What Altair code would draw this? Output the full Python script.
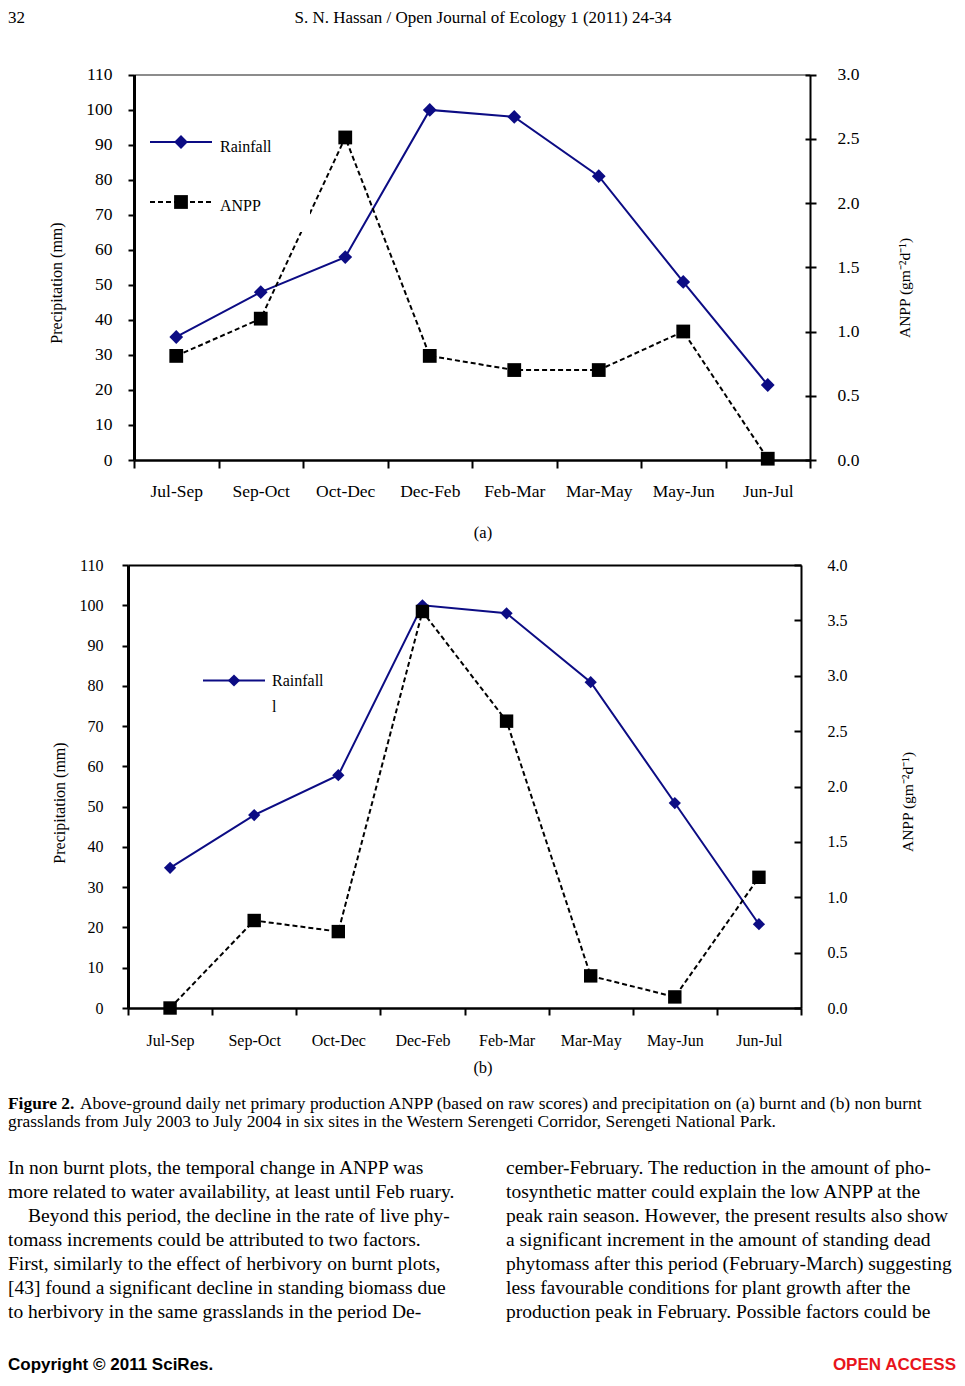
import altair as alt
import pandas as pd

# ---------------- data ----------------
periods = ["Jul-Sep", "Sep-Oct", "Oct-Dec", "Dec-Feb", "Feb-Mar", "Mar-May", "May-Jun", "Jun-Jul"]
rain_a = [35.1, 47.9, 57.9, 99.9, 97.9, 81.0, 50.8, 21.4]
anpp_a = [0.81, 1.10, 2.51, 0.81, 0.70, 0.70, 1.00, 0.01]
rain_b = [34.8, 47.9, 57.8, 100.0, 98.0, 80.9, 50.9, 20.8]
anpp_b = [0.00, 0.79, 0.69, 3.58, 2.59, 0.29, 0.10, 1.18]
precip_ticks = [0, 10, 20, 30, 40, 50, 60, 70, 80, 90, 100, 110]
anpp_ticks_a = [0.0, 0.5, 1.0, 1.5, 2.0, 2.5, 3.0]
anpp_ticks_b = [0.0, 0.5, 1.0, 1.5, 2.0, 2.5, 3.0, 3.5, 4.0]

header_num = "32"
header_title = "S. N. Hassan / Open Journal of Ecology 1 (2011) 24-34"
y_title_left = "Precipitation (mm)"
y_title_right = "ANPP (gm\u207b\u00b2d\u207b\u00b9)"
legend_rain = "Rainfall"
legend_anpp = "ANPP"
legend_stray = "l"
caption_bold = "Figure 2."
caption_1 = ("Above-ground daily net primary production ANPP (based on raw scores) "
             "and precipitation on (a) burnt and (b) non burnt")
caption_2 = ("grasslands from July 2003 to July 2004 in six sites in the Western "
             "Serengeti Corridor, Serengeti National Park.")
body_left = [
    "In non burnt plots, the temporal change in ANPP was",
    "more related to water availability, at least until Feb ruary.",
    "Beyond this period, the decline in the rate of live phy-",
    "tomass increments could be attributed to two factors.",
    "First, similarly to the effect of herbivory on burnt plots,",
    "[43] found a significant decline in standing biomass due",
    "to herbivory in the same grasslands in the period De-",
]
body_right = [
    "cember-February. The reduction in the amount of pho-",
    "tosynthetic matter could explain the low ANPP at the",
    "peak rain season. However, the present results also show",
    "a significant increment in the amount of standing dead",
    "phytomass after this period (February-March) suggesting",
    "less favourable conditions for plant growth after the",
    "production peak in February. Possible factors could be",
]
footer_left = "Copyright \u00a9 2011 SciRes."
footer_right = "OPEN ACCESS"

# ---------------- layout ----------------
OFF = 8              # page margin
W, H = 949, 1370     # drawing area (page minus margins)
SERIF = "Liberation Serif"
SANS = "Liberation Sans"
NAVY = "#0c0c84"

GA = dict(x0=134, x1=810, yt=74.5, yb=460, fs=17.5, xtick=8, xpad=14, lpad=16,
          rout=6, rpad=21, rin=5, topc="#8c8c8c", dsize=190, ssize=190)
GB = dict(x0=128, x1=801, yt=565, yb=1008, fs=16, xtick=7, xpad=17, lpad=19,
          rout=0, rpad=26, rin=7, topc="black", dsize=150, ssize=180)

ONE = pd.DataFrame({"k": [0]})


def panel(rain, anpp, anpp_max, anpp_ticks, g):
    df = pd.DataFrame({"period": periods, "rain": rain, "anpp": anpp})
    xs = alt.Scale(type="band", domain=periods, range=[g["x0"] - OFF, g["x1"] - OFF],
                   paddingInner=0, paddingOuter=0)
    ysl = alt.Scale(type="linear", domain=[0, 110], range=[g["yb"] - OFF, g["yt"] - OFF],
                    nice=False, zero=False)
    ysr = alt.Scale(type="linear", domain=[0, anpp_max], range=[g["yb"] - OFF, g["yt"] - OFF],
                    nice=False, zero=False)

    def X(axis):
        return alt.X("period:N", scale=xs, bandPosition=0.5, axis=axis)

    ax_bottom = alt.Axis(orient="bottom", offset=g["yb"] - OFF - H, tickBand="extent",
                         tickSize=g["xtick"], tickWidth=2, tickColor="black",
                         domainColor="black", domainWidth=2.5, labelFont=SERIF,
                         labelFontSize=g["fs"], labelColor="black", labelPadding=g["xpad"],
                         labelAngle=0, title="", grid=False)
    ax_top = alt.Axis(orient="top", offset=-(g["yt"] - OFF), ticks=False, labels=False,
                      domainColor=g["topc"], domainWidth=2, title="", grid=False)
    ax_left = alt.Axis(orient="left", offset=-(g["x0"] - OFF), values=precip_ticks,
                       tickSize=6, tickWidth=2, tickColor="black", domainColor="black",
                       domainWidth=3, labelFont=SERIF, labelFontSize=g["fs"],
                       labelColor="black", labelPadding=g["lpad"], labelFlush=False,
                       labelOverlap=False, title="", grid=False)
    ax_right = alt.Axis(orient="right", offset=(g["x1"] - OFF) - W, values=anpp_ticks,
                        format=".1f", tickSize=g["rout"], tickWidth=2, tickColor="black",
                        domainColor="black", domainWidth=2, labelFont=SERIF,
                        labelFontSize=g["fs"], labelColor="black", labelPadding=g["rpad"],
                        labelFlush=False, labelOverlap=False, title="", grid=False)
    ax_in = alt.Axis(orient="left", offset=-(g["x1"] - OFF), values=anpp_ticks,
                     labels=False, domain=False, tickSize=g["rin"], tickWidth=2,
                     tickColor="black", title="", grid=False)

    base = alt.Chart(df)
    layers = [
        base.mark_line(color=NAVY, strokeWidth=2).encode(
            x=X(ax_bottom), y=alt.Y("rain:Q", scale=ysl, axis=ax_left)),
        base.mark_point(shape="diamond", filled=True, size=g["dsize"], color=NAVY, opacity=1).encode(
            x=X(None), y=alt.Y("rain:Q", scale=ysl, axis=None)),
        base.mark_line(color="black", strokeWidth=2, strokeDash=[5, 3]).encode(
            x=X(ax_top), y=alt.Y("anpp:Q", scale=ysr, axis=ax_right)),
        base.mark_point(shape="square", filled=True, size=g["ssize"], color="black", opacity=1).encode(
            x=X(None), y=alt.Y("anpp:Q", scale=ysr, axis=None)),
        base.mark_point(opacity=0).encode(
            x=X(None), y=alt.Y("anpp:Q", scale=ysr, axis=ax_in)),
    ]
    return layers


def texts(rows, **kw):
    df = pd.DataFrame(rows, columns=["t", "x", "y"])
    df["x"] = df["x"] - OFF
    df["y"] = df["y"] - OFF
    style = dict(font=SERIF, color="black", baseline="middle", align="left")
    style.update(kw)
    return alt.Chart(df).mark_text(**style).encode(
        x=alt.X("x:Q", scale=None, axis=None),
        y=alt.Y("y:Q", scale=None, axis=None),
        text="t:N")


def hline(x0, x1, y, **kw):
    return alt.Chart(ONE).mark_rule(**kw).encode(
        x=alt.value(x0 - OFF), x2=alt.value(x1 - OFF), y=alt.value(y - OFF))


def glyph(x, y, **kw):
    return alt.Chart(ONE).mark_point(filled=True, opacity=1, **kw).encode(
        x=alt.value(x - OFF), y=alt.value(y - OFF))


layers = []
layers += panel(rain_a, anpp_a, 3.0, anpp_ticks_a, GA)
# white legend box of panel (a)
layers.append(alt.Chart(ONE).mark_rect(fill="white").encode(
    x=alt.value(138 - OFF), x2=alt.value(310 - OFF), y=alt.value(118 - OFF), y2=alt.value(232 - OFF)))
layers += [
    hline(150, 212, 142, color=NAVY, strokeWidth=2),
    glyph(181, 142, shape="diamond", size=GA["dsize"], color=NAVY),
    hline(150, 212, 202, color="black", strokeWidth=2, strokeDash=[5, 3]),
    glyph(181, 202, shape="square", size=GA["ssize"], color="black"),
    texts([(legend_rain, 220, 147), (legend_anpp, 220, 206)], fontSize=16),
]
layers += panel(rain_b, anpp_b, 4.0, anpp_ticks_b, GB)
layers += [
    hline(203, 265, 680.5, color=NAVY, strokeWidth=2),
    glyph(234, 680.5, shape="diamond", size=GB["dsize"], color=NAVY),
    texts([(legend_rain, 272, 681), (legend_stray, 272, 707)], fontSize=16),
]
# axis titles
layers += [
    texts([(y_title_left, 57, 283), (y_title_left, 60, 803)], fontSize=16, angle=270, align="center"),
    texts([(y_title_right, 905, 288), (y_title_right, 908, 802)], fontSize=15.5, angle=270, align="center"),
]
# page text
layers += [
    texts([(header_num, 8, 18)], fontSize=17),
    texts([(header_title, 483, 18)], fontSize=17, align="center"),
    texts([("(a)", 483, 533), ("(b)", 483, 1068)], fontSize=16.5, align="center"),
    texts([(caption_bold, 8, 1104)], fontSize=17.4, fontWeight="bold"),
    texts([(caption_1, 80, 1104), (caption_2, 8, 1122)], fontSize=17.4),
    texts([(s, 8 + (20 if i == 2 else 0), 1168 + 24 * i) for i, s in enumerate(body_left)], fontSize=19.5),
    texts([(s, 506, 1168 + 24 * i) for i, s in enumerate(body_right)], fontSize=19.5),
    texts([(footer_left, 8, 1365)], font=SANS, fontSize=17, fontWeight="bold"),
    texts([(footer_right, 956, 1365)], font=SANS, fontSize=17, fontWeight="bold",
          color="#e8141b", align="right"),
]

chart = alt.layer(*layers).resolve_scale(x="independent", y="independent").properties(
    width=W, height=H, padding=0, background="white",
    autosize=alt.AutoSizeParams(type="none"),
).configure_view(strokeWidth=0)

chart.save("out.html", embed_options={"renderer": "svg", "actions": False})
